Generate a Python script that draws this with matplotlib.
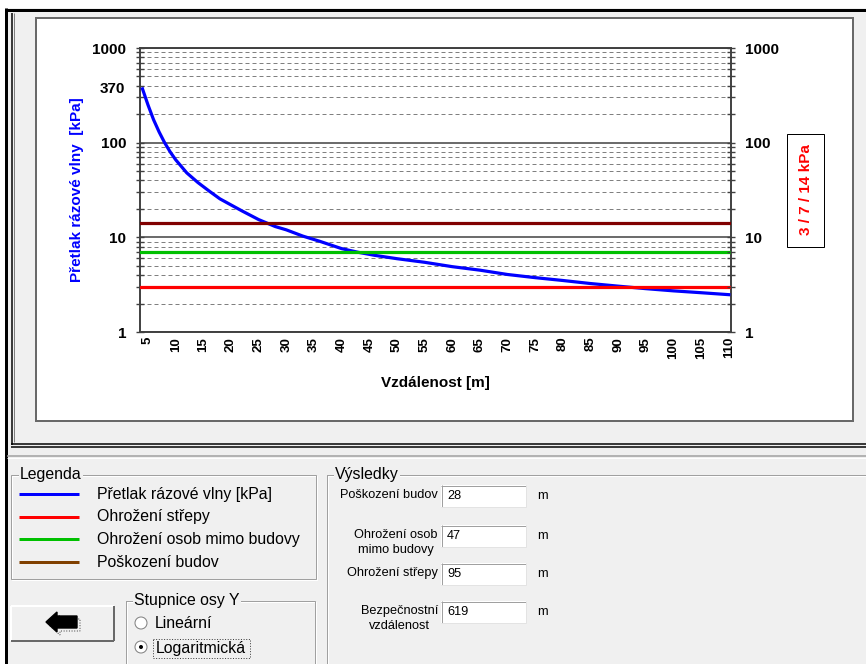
import matplotlib
matplotlib.use('Agg')
import matplotlib.pyplot as plt
from matplotlib.patches import Rectangle, Circle, Polygon
from matplotlib.ticker import FixedLocator, LogLocator, NullFormatter

plt.rcParams['font.family'] = ['Liberation Sans', 'DejaVu Sans']

# values
distance = [4, 5, 6, 7, 8, 9, 10, 12, 14, 16, 18, 20, 22, 25, 28, 30, 33, 36, 40, 43, 46,
            50, 55, 60, 65, 70, 75, 80, 85, 90, 95, 100, 105, 110]
pressure = [370, 250, 175, 130, 100, 80, 66, 48, 38, 31, 25.5, 22, 19, 15.4, 13.0, 12.0, 10.3,
            9.1, 7.6, 6.95, 6.45, 5.95, 5.45, 4.9, 4.5, 4.05, 3.75, 3.5, 3.25, 3.05, 2.87, 2.72,
            2.6, 2.48]
limits = [3, 7, 14]
limit_colors = ['#ff0000', '#00c000', '#800000']
x_ticks = [5, 10, 15, 20, 25, 30, 35, 40, 45, 50, 55, 60, 65, 70, 75, 80, 85, 90, 95,
           100, 105, 110]
y_ticks = [1, 10, 100, 1000]

legend_labels = ['Přetlak rázové vlny [kPa]', 'Ohrožení střepy',
                 'Ohrožení osob mimo budovy', 'Poškození budov']
legend_colors = ['#0000ff', '#ff0000', '#00c000', '#804000']

result_labels = ['Poškození budov', 'Ohrožení osob\nmimo budovy', 'Ohrožení střepy',
                 'Bezpečnostní\nvzdálenost']
result_values = ['28', '47', '95', '619']

W, H = 866, 664
PT = 0.72  # one pixel in points at dpi 100
BG = '#f0f0f0'

fig = plt.figure(figsize=(W / 100, H / 100), dpi=100)
fig.patch.set_facecolor('white')

# background "window" drawn in pixel coordinates
bg = fig.add_axes([0, 0, 1, 1], zorder=0)
bg.set_xlim(0, W)
bg.set_ylim(H, 0)
bg.axis('off')


def rect(x0, y0, x1, y1, fc='none', ec='none', lw=1, **kw):
    bg.add_patch(Rectangle((x0, y0), x1 - x0, y1 - y0, facecolor=fc, edgecolor=ec,
                           linewidth=lw * PT, **kw))


def line(xs, ys, color, lw=1, **kw):
    bg.plot(xs, ys, color=color, linewidth=lw * PT, solid_capstyle='butt', **kw)


def groupbox(x0, y0, x1, y1, title, tx):
    rect(x0 + 1, y0 + 1, x1 + 1, y1 + 1, ec='white')
    rect(x0, y0, x1, y1, ec='#a0a0a0')
    bg.text(tx, y0, title, fontsize=11.4, va='center', ha='left', color='black',
            bbox=dict(facecolor=BG, edgecolor='none', pad=1))


rect(5, 8, W + 2, H + 2, fc=BG)
line([5, W], [9.5, 9.5], 'black', 3)
line([6, 6], [8, H], 'black', 3)
line([11.5, 11.5], [13, 445], 'black', 1.5)
line([14, 14], [13, 442], '#808080', 1)
line([11, W], [443.5, 443.5], 'black', 1.5)
line([11, W], [446.5, 446.5], 'black', 1.5)
line([7, W], [456, 456], '#a0a0a0', 1.5)
line([7, W], [457.5, 457.5], 'white', 1)

# white chart panel
rect(36, 18, 853, 421, fc='white', ec='#696969', lw=2)

# chart
ax = fig.add_axes([140 / W, 1 - 332 / H, 591 / W, 284 / H], zorder=2)
ax.set_yscale('log')
ax.plot(distance, pressure, color='#0000ff', linewidth=2.3, zorder=3)
for val, col in zip(limits, limit_colors):
    ax.axhline(val, color=col, linewidth=2.3, zorder=4)
ax.set_xlim(3.55, 110.4)
ax.set_ylim(1, 1000)

ax.yaxis.set_major_locator(FixedLocator(y_ticks))
ax.yaxis.set_minor_locator(LogLocator(base=10, subs=range(2, 10)))
ax.yaxis.set_minor_formatter(NullFormatter())
ax.set_yticklabels([str(t) for t in y_ticks])
ax.set_xticks(x_ticks)
ax.set_xticklabels([str(t) for t in x_ticks], rotation=90, fontweight='bold', fontsize=9.5)
ax.tick_params(axis='x', length=0, pad=3.5)
ax.tick_params(axis='y', which='both', direction='inout', length=6, width=1,
               color='#404040', pad=7, labelsize=11)
for lab in ax.get_yticklabels():
    lab.set_fontweight('bold')

ax.grid(which='major', axis='y', color='#505050', linewidth=1.2, linestyle='-')
ax.grid(which='minor', axis='y', color='#808080', linewidth=PT, linestyle=(0, (4, 3)))
ax.set_axisbelow(True)
for sp in ax.spines.values():
    sp.set_color('#404040')
    sp.set_linewidth(1.4)

# first value label on the left axis
ax.text(-0.025, pressure[0], str(pressure[0]), transform=ax.get_yaxis_transform(),
        ha='right', va='center', fontsize=11, fontweight='bold')

ax2 = ax.twinx()
ax2.set_yscale('log')
ax2.set_ylim(1, 1000)
ax2.yaxis.set_major_locator(FixedLocator(y_ticks))
ax2.yaxis.set_minor_locator(LogLocator(base=10, subs=range(2, 10)))
ax2.yaxis.set_minor_formatter(NullFormatter())
ax2.set_yticklabels([str(t) for t in y_ticks])
ax2.tick_params(axis='y', which='both', direction='inout', length=6, width=1,
                color='#404040', pad=7, labelsize=11)
for lab in ax2.get_yticklabels():
    lab.set_fontweight('bold')
for sp in ax2.spines.values():
    sp.set_visible(False)

ax.set_xlabel('Vzdálenost [m]', fontsize=11, fontweight='bold')
ax.xaxis.set_label_coords(0.5, -0.155)
ax.set_ylabel('Přetlak rázové vlny  [kPa]', fontsize=11, fontweight='bold', color='#0000ff')
ax.yaxis.set_label_coords(-0.095, 0.5)

# red box with the limits
rect(787, 134, 824, 247, fc='white', ec='black', lw=1)
bg.text(805.5, 190, ' / '.join(str(v) for v in limits) + ' kPa', rotation=90,
        ha='center', va='center', color='#ff0000', fontsize=11, fontweight='bold')

# legend group
groupbox(11, 475, 316, 579, 'Legenda', 20)
for i, (lab, col) in enumerate(zip(legend_labels, legend_colors)):
    y = 494 + i * 22.7
    line([19, 79], [y, y], col, 3)
    bg.text(97, y, lab, fontsize=11.4, va='center', ha='left')

# back button
rect(11, 606, 114, 641, fc=BG)
line([11, 114], [606, 606], 'white', 2)
line([11, 11], [606, 641], 'white', 2)
line([11, 114], [641, 641], '#696969', 2)
line([114, 114], [606, 641], '#696969', 2)
arrow = [(46, 622), (57, 612), (57, 616), (77, 616), (77, 628), (57, 628), (57, 632)]
bg.add_patch(Polygon([(x + 3, y + 3) for x, y in arrow], closed=True, facecolor='none',
                     edgecolor='#404040', linewidth=PT, linestyle=':'))
bg.add_patch(Polygon(arrow, closed=True, facecolor='black', edgecolor='black'))

# y-scale group
groupbox(126, 601, 315, 680, 'Stupnice osy Y', 134)
bg.add_patch(Circle((141, 623), 6, facecolor='white', edgecolor='#808080', linewidth=PT))
bg.add_patch(Circle((141, 647), 6, facecolor='white', edgecolor='#808080', linewidth=PT))
bg.add_patch(Circle((141, 647), 2, facecolor='black', edgecolor='none'))
bg.text(155, 623, 'Lineární', fontsize=11.4, va='center', ha='left')
bg.text(156, 648, 'Logaritmická', fontsize=11.4, va='center', ha='left')
rect(153, 639, 250, 658, ec='#404040', lw=1, linestyle=':')

# results group
groupbox(327, 475, 880, 680, 'Výsledky', 335)
row_y = [496, 536, 574, 612]
for lab, val, y in zip(result_labels, result_values, row_y):
    bg.text(438, y - 7, lab, fontsize=9.2, ha='right', va='top', multialignment='center',
            linespacing=1.35)
    rect(441, y - 11, 526, y + 11, fc='white')
    line([441, 526], [y - 10.5, y - 10.5], '#a0a0a0', 1)
    line([441.5, 441.5], [y - 11, y + 11], '#a0a0a0', 1)
    line([441, 526], [y + 10.5, y + 10.5], '#e3e3e3', 1)
    line([525.5, 525.5], [y - 11, y + 11], '#e3e3e3', 1)
    bg.text(447, y, val, fontsize=9.2, ha='left', va='center')
    bg.text(537, y, 'm', fontsize=9.2, ha='left', va='center')

fig.savefig('out.png', dpi=100, facecolor=fig.get_facecolor())
